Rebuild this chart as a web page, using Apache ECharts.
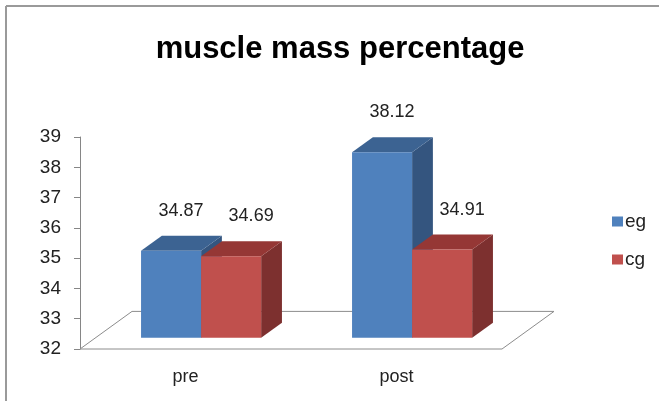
<!DOCTYPE html>
<html>
<head>
<meta charset="utf-8">
<script src="https://cdn.jsdelivr.net/npm/echarts@6/dist/echarts.min.js"></script>
<style>html,body{margin:0;padding:0;background:#fff;}#c{width:659px;height:401px;}</style>
</head>
<body>
<div id="c"></div>
<script>
var categories = ['pre', 'post'];
var egValues = [34.87, 38.12];
var cgValues = [34.69, 34.91];
var seriesNames = ['eg', 'cg'];
var yTicks = [32, 33, 34, 35, 36, 37, 38, 39];

var FONT = '"Liberation Sans", Arial, sans-serif';
var palette = {
  eg: { front: '#4F81BD', top: '#3C6392', side: '#34557F' },
  cg: { front: '#C0504D', top: '#953735', side: '#7D302F' }
};
var FLOOR_DX = 52, FLOOR_DY = -37.6;
var BAR_FRONT = 0.3, BAR_DEPTH = 0.4, BAR_W = 0.2846;

var chart = echarts.init(document.getElementById('c'), null, { renderer: 'canvas' });

function barRender(seriesIdx, key) {
  return function (params, api) {
    var i = api.value(0), v = api.value(1);
    var base = api.coord([i, yTicks[0]]);
    var topP = api.coord([i, v]);
    var band = api.size([1, 0])[0];
    var w = band * BAR_W;
    var fx = FLOOR_DX * BAR_FRONT, fy = FLOOR_DY * BAR_FRONT;
    var dx = FLOOR_DX * BAR_DEPTH, dy = FLOOR_DY * BAR_DEPTH;
    var cx = base[0] + fx;
    var x0 = seriesIdx === 0 ? cx - w : cx;
    var x1 = x0 + w;
    var yb = base[1] + fy;
    var yt = topP[1] + fy;
    var c = palette[key];
    var labelX = (x0 + x1) / 2 + (seriesIdx === 0 ? 10 : 20);
    var labelY = yt + dy - 25;
    return {
      type: 'group',
      children: [
        { type: 'polygon', shape: { points: [[x1, yt], [x1 + dx, yt + dy], [x1 + dx, yb + dy], [x1, yb]] }, style: { fill: c.side } },
        { type: 'polygon', shape: { points: [[x0, yt], [x0 + dx, yt + dy], [x1 + dx, yt + dy], [x1, yt]] }, style: { fill: c.top } },
        { type: 'rect', shape: { x: x0, y: yt, width: w, height: yb - yt }, style: { fill: c.front } },
        { type: 'text', x: labelX, y: labelY, style: { text: v.toFixed(2), fill: '#222', font: '18px ' + FONT, align: 'center', verticalAlign: 'middle' } }
      ]
    };
  };
}

var option = {
  animation: false,
  backgroundColor: '#fff',
  title: {
    text: 'muscle mass percentage',
    left: 335, top: 29, textAlign: 'center',
    textStyle: { fontFamily: FONT, fontSize: 31, fontWeight: 'bold', color: '#000' }
  },
  legend: {
    orient: 'vertical', left: 607, top: 207,
    icon: 'rect', itemWidth: 11, itemHeight: 10, itemGap: 19, itemStyle: { borderWidth: 0 },
    textStyle: { fontFamily: FONT, fontSize: 19, color: '#222', padding: [0, 0, 0, -3] },
    data: seriesNames
  },
  grid: { left: 80, top: 137, width: 422, height: 212, containLabel: false },
  xAxis: {
    type: 'category', data: categories,
    axisLine: { show: false }, axisTick: { show: false },
    axisLabel: { fontFamily: FONT, fontSize: 18, color: '#222', margin: 19 }
  },
  yAxis: {
    type: 'value', min: yTicks[0], max: yTicks[yTicks.length - 1], interval: 1,
    axisLine: { show: true, lineStyle: { color: '#868686', width: 1 } },
    axisTick: { show: true, length: 6, lineStyle: { color: '#868686' } },
    splitLine: { show: false },
    axisLabel: { fontFamily: FONT, fontSize: 19, color: '#222', margin: 19 }
  },
  graphic: [
    { type: 'line', shape: { x1: 6, y1: 6, x2: 659, y2: 6 }, style: { stroke: '#9a9a9a', lineWidth: 2 } },
    { type: 'line', shape: { x1: 6, y1: 6, x2: 6, y2: 401 }, style: { stroke: '#9a9a9a', lineWidth: 2 } }
  ],
  series: [
    {
      type: 'custom', name: 'floor', silent: true, z: 1,
      data: [[0, yTicks[0]]],
      renderItem: function (params, api) {
        var cs = params.coordSys;
        var yB = cs.y + cs.height;
        return {
          type: 'polygon',
          shape: { points: [[cs.x, yB], [cs.x + cs.width, yB], [cs.x + cs.width + FLOOR_DX, yB + FLOOR_DY], [cs.x + FLOOR_DX, yB + FLOOR_DY]] },
          style: { fill: '#fff', stroke: '#8c8c8c', lineWidth: 1 }
        };
      }
    },
    {
      type: 'custom', name: seriesNames[0], z: 2,
      itemStyle: { color: palette.eg.front },
      data: categories.map(function (c, i) { return [i, egValues[i]]; }),
      renderItem: barRender(0, 'eg')
    },
    {
      type: 'custom', name: seriesNames[1], z: 3,
      itemStyle: { color: palette.cg.front },
      data: categories.map(function (c, i) { return [i, cgValues[i]]; }),
      renderItem: barRender(1, 'cg')
    }
  ]
};
chart.setOption(option);
</script>
</body>
</html>
